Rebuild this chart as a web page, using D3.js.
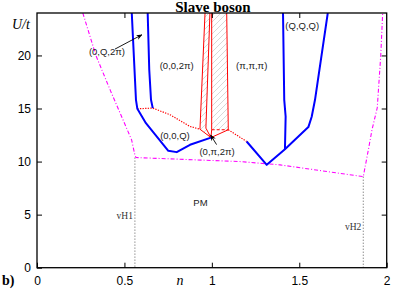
<!DOCTYPE html>
<html>
<head>
<meta charset="utf-8">
<script src="https://cdn.jsdelivr.net/npm/d3@7"></script>
<style>
  body { margin: 0; background: #fff; }
</style>
</head>
<body>
<svg id="chart" width="407" height="291" font-family="Liberation Sans, Arial, sans-serif"></svg>
<script>
// phase boundaries, each point is [n, U/t]
const blueOuterLeft = [[0.542,24],[0.566,15.82],[0.574,14.97],[0.623,13.62],[0.751,11.01],[0.799,10.89],[0.875,11.58],[0.995,12.26]];
const blueInnerLeft = [[0.633,24],[0.642,18.65],[0.652,15.82],[0.662,15.04]];
const blueRight = [[1.199,11.89],[1.314,9.69],[1.418,11.17],[1.552,13.25],[1.571,14.22],[1.590,15.82],[1.663,24]];
const blueInnerRight = [[1.418,11.17],[1.422,14.25],[1.414,15.82],[1.407,24]];

const redDottedLeft = [[0.574,14.97],[0.662,15.04],[0.761,14.41],[0.875,13.31],[0.932,13.05]];
const redDottedRight = [[1.094,13.0],[1.199,11.89]];
const redSolid = [
  [[0.961,24],[0.932,13.05],[0.995,12.26]],
  [[0.989,24],[0.966,13.15],[0.995,12.26]],
  [[0.999,24],[0.999,13.0],[0.995,12.26]],
  [[1.085,24],[1.094,13.0],[0.995,12.26]]
];
const redDashed = [[0.999,13.0],[1.094,13.0]];
const hatchLeft = [[0.961,24],[0.989,24],[0.966,13.15],[0.995,12.26],[0.932,13.05]];
const hatchMain = [[0.999,24],[1.085,24],[1.094,13.0],[0.999,13.0]];

const pmBoundary = [[0.262,24],[0.337,20],[0.417,16.8],[0.541,12.05],[0.56,10.6],[0.566,10.38],[1.161,10.0],[1.39,9.69],[1.866,8.58],[1.895,11.1],[1.916,13],[1.946,15.07],[1.966,20],[1.977,24]];
const vanHove = [{name: "vH1", n: 0.56, top: 10.38}, {name: "vH2", n: 1.866, top: 8.58}];

const phaseLabels = [
  {text: "(0,Q,2π)", n: 0.40, U: 20.0, arrow: [[0.446,20.6],[0.600,21.95]]},
  {text: "(0,0,2π)", n: 0.799, U: 18.7},
  {text: "(π,π,π)", n: 1.228, U: 18.7},
  {text: "(Q,Q,Q)", n: 1.517, U: 22.5},
  {text: "(0,0,Q)", n: 0.789, U: 12.1},
  {text: "(0,π,2π)", n: 1.03, U: 10.6, arrow: [[1.027,11.6],[0.993,12.5]]},
  {text: "PM", n: 0.935, U: 5.8}
];

const xTicks = [0, 0.5, 1, 1.5, 2];
const yTicks = [0, 5, 10, 15, 20];

const svg = d3.select("#chart");
const x = d3.scaleLinear().domain([0, 2]).range([37, 386.7]);
const y = d3.scaleLinear().domain([0, 24]).range([267.7, 13]);
const line = d3.line().x(d => x(d[0])).y(d => y(d[1]));
const serif = "'Liberation Serif', 'Times New Roman', serif";

const defs = svg.append("defs");
defs.append("clipPath").attr("id", "plot")
  .append("rect").attr("x", x(0)).attr("y", y(24)).attr("width", x(2) - x(0)).attr("height", y(0) - y(24));
defs.append("pattern").attr("id", "hatch").attr("patternUnits", "userSpaceOnUse")
  .attr("width", 6).attr("height", 6)
  .append("path").attr("d", "M-1,1 l2,-2 M0,6 l6,-6 M5,7 l2,-2")
  .attr("stroke", "#bdbdbd").attr("stroke-width", 0.6);
defs.append("marker").attr("id", "arrow").attr("viewBox", "0 0 10 10")
  .attr("refX", 9).attr("refY", 5).attr("markerWidth", 7).attr("markerHeight", 7)
  .attr("orient", "auto")
  .append("path").attr("d", "M0,1 L10,5 L0,9 L3,5 Z").attr("fill", "#000");

const g = svg.append("g").attr("clip-path", "url(#plot)");

// van Hove lines and PM boundary
vanHove.forEach(v => {
  g.append("line").attr("x1", x(v.n)).attr("x2", x(v.n)).attr("y1", y(v.top)).attr("y2", y(0))
    .attr("stroke", "#555").attr("stroke-width", 0.8).attr("stroke-dasharray", "1.2,1.8");
});
g.append("path").datum(pmBoundary).attr("d", line)
  .attr("fill", "none").attr("stroke", "#ff00ff").attr("stroke-width", 1.1)
  .attr("stroke-dasharray", "4,2,1,2");

// hatched region
[hatchLeft, hatchMain].forEach(p => {
  g.append("path").datum(p).attr("d", d => line(d) + "Z").attr("fill", "url(#hatch)").attr("stroke", "none");
});
redSolid.forEach(p => {
  g.append("path").datum(p).attr("d", line).attr("fill", "none")
    .attr("stroke", "#ff0000").attr("stroke-width", 1);
});
g.append("path").datum(redDashed).attr("d", line).attr("fill", "none")
  .attr("stroke", "#ff0000").attr("stroke-width", 1).attr("stroke-dasharray", "3,2");
[redDottedLeft, redDottedRight].forEach(p => {
  g.append("path").datum(p).attr("d", line).attr("fill", "none")
    .attr("stroke", "#ff0000").attr("stroke-width", 1.2).attr("stroke-dasharray", "1.3,1.3");
});

// blue boundaries
[blueOuterLeft, blueInnerLeft, blueRight, blueInnerRight].forEach(p => {
  g.append("path").datum(p).attr("d", line).attr("fill", "none")
    .attr("stroke", "#0000ff").attr("stroke-width", 2).attr("stroke-linejoin", "round");
});

// axes with inward ticks on all four sides
const fmt = d => String(d);
svg.append("g").attr("transform", `translate(0,${y(0)})`)
  .call(d3.axisBottom(x).tickValues(xTicks).tickFormat(fmt).tickSizeInner(-5).tickSizeOuter(0).tickPadding(9))
  .call(a => a.selectAll("text").attr("font-size", 12).attr("fill", "#000"));
svg.append("g").attr("transform", `translate(0,${y(24)})`)
  .call(d3.axisTop(x).tickValues(xTicks.slice(1, -1)).tickFormat("").tickSizeInner(-5).tickSizeOuter(0));
svg.append("g").attr("transform", `translate(${x(0)},0)`)
  .call(d3.axisLeft(y).tickValues(yTicks).tickFormat(fmt).tickSizeInner(-5).tickSizeOuter(0).tickPadding(6))
  .call(a => a.selectAll("text").attr("font-size", 12).attr("fill", "#000"));
svg.append("g").attr("transform", `translate(${x(2)},0)`)
  .call(d3.axisRight(y).tickValues(yTicks.slice(1)).tickFormat("").tickSizeInner(-5).tickSizeOuter(0));
svg.selectAll(".domain").remove();
svg.selectAll(".tick line").attr("stroke", "#000").attr("stroke-width", 1);
svg.selectAll(".tick text").style("font-family", "'Liberation Sans', Arial, sans-serif");
svg.append("rect").attr("x", x(0)).attr("y", y(24)).attr("width", x(2) - x(0)).attr("height", y(0) - y(24))
  .attr("fill", "none").attr("stroke", "#000").attr("stroke-width", 1.3);

// labels
phaseLabels.forEach(l => {
  svg.append("text").attr("x", x(l.n)).attr("y", y(l.U)).attr("text-anchor", "middle")
    .attr("font-size", 9.5).attr("fill", "#222").text(l.text);
  if (l.arrow) {
    svg.append("line").attr("x1", x(l.arrow[0][0])).attr("y1", y(l.arrow[0][1]))
      .attr("x2", x(l.arrow[1][0])).attr("y2", y(l.arrow[1][1]))
      .attr("stroke", "#000").attr("stroke-width", 0.9).attr("marker-end", "url(#arrow)");
  }
});
vanHove.forEach((v, i) => {
  svg.append("text").attr("x", x(v.n) - 2).attr("y", i === 0 ? 219 : 230)
    .attr("text-anchor", "end").style("font-family", serif)
    .attr("font-size", 9.5).attr("fill", "#333").text(v.name);
});

svg.append("text").attr("x", 213).attr("y", 12).attr("text-anchor", "middle")
  .style("font-family", serif).attr("font-weight", "bold").attr("font-size", 15)
  .text("Slave boson");
svg.append("text").attr("x", 12).attr("y", 29)
  .style("font-family", serif).attr("font-style", "italic").attr("font-size", 14)
  .text("U/t");
svg.append("text").attr("x", 180).attr("y", 285).attr("text-anchor", "middle")
  .style("font-family", serif).attr("font-style", "italic").attr("font-size", 14)
  .text("n");
svg.append("text").attr("x", 2).attr("y", 285)
  .style("font-family", serif).attr("font-weight", "bold").attr("font-size", 14)
  .text("b)");
</script>
</body>
</html>
